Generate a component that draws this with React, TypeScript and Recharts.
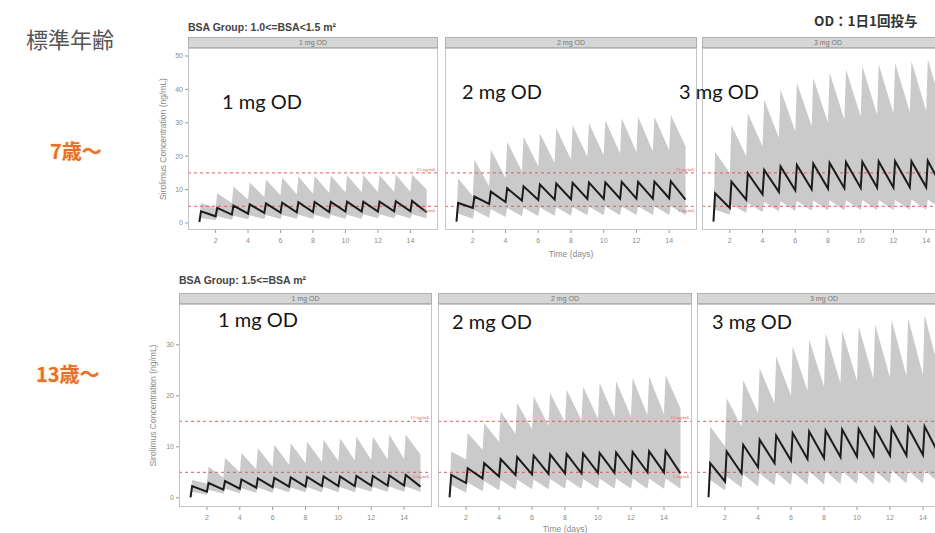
import React from 'react';
import { ComposedChart, Area, Line, XAxis, YAxis, ReferenceLine } from 'recharts';

// dosing schedule: one dose a day, day 1..14, observed until day 15
const doseDays = [1, 2, 3, 4, 5, 6, 7, 8, 9, 10, 11, 12, 13, 14];
const lastDay = 15;
const peakLag = 0.1;

const xTicks = [2, 4, 6, 8, 10, 12, 14];
const topYTicks = [0, 10, 20, 30, 40, 50];
const bottomYTicks = [0, 10, 20, 30];
const targetLow = 5;
const targetHigh = 15;

// values in time order: trough day1, peak day1, trough day2, ..., trough day15
// BSA 1.0-1.5, 1 mg
const top1Median = [0.3, 3.5, 2.0, 4.5, 2.5, 5.2, 2.8, 5.6, 3.0, 5.9, 3.1, 6.1, 3.2, 6.2, 3.3, 6.3, 3.3, 6.3, 3.4, 6.4, 3.4, 6.4, 3.4, 6.4, 3.5, 6.5, 3.5, 6.6, 3.2];
const top1Upper = [0.6, 6.0, 4.5, 8.9, 6.0, 10.9, 7.0, 12.1, 7.8, 13.0, 8.3, 13.6, 8.6, 13.9, 8.8, 14.1, 9.0, 14.2, 9.1, 14.3, 9.2, 14.4, 9.2, 14.4, 9.3, 14.5, 9.3, 14.5, 10.0];
const top1Lower = [0.1, 1.5, 0.8, 2.0, 1.0, 2.2, 1.1, 2.3, 1.2, 2.4, 1.2, 2.4, 1.3, 2.5, 1.3, 2.5, 1.3, 2.5, 1.3, 2.5, 1.3, 2.6, 1.4, 2.6, 1.4, 2.6, 1.4, 2.6, 1.4];
// BSA 1.0-1.5, 2 mg
const top2Median = [0.4, 6.0, 4.5, 7.9, 5.7, 9.4, 6.3, 10.4, 6.7, 11.0, 6.9, 11.5, 7.0, 11.8, 7.1, 12.0, 7.2, 12.1, 7.2, 12.2, 7.3, 12.3, 7.3, 12.3, 7.3, 12.4, 7.4, 12.5, 7.0];
const top2Upper = [1.0, 13.4, 8.0, 18.9, 11.0, 21.9, 13.5, 24.3, 15.5, 25.8, 17.0, 26.8, 18.0, 28.4, 19.0, 29.3, 19.8, 29.9, 20.3, 30.8, 20.8, 31.4, 21.2, 31.8, 21.5, 31.8, 21.8, 32.3, 23.0];
const top2Lower = [0.1, 2.8, 1.3, 3.8, 1.6, 4.2, 1.8, 4.5, 2.0, 4.6, 2.1, 4.7, 2.2, 4.8, 2.2, 4.8, 2.3, 4.9, 2.3, 4.9, 2.3, 4.9, 2.4, 5.0, 2.4, 5.0, 2.4, 5.0, 2.4];
// BSA 1.0-1.5, 3 mg
const top3Median = [0.4, 8.9, 4.5, 12.4, 7.0, 14.9, 8.6, 15.9, 9.3, 16.9, 9.8, 17.4, 10.1, 17.8, 10.3, 18.0, 10.4, 18.2, 10.5, 18.3, 10.6, 18.4, 10.6, 18.5, 10.7, 18.5, 10.7, 18.6, 10.5];
const top3Upper = [1.0, 21.3, 15.0, 29.3, 20.0, 32.8, 23.0, 36.8, 25.5, 40.0, 27.5, 42.0, 29.0, 43.4, 30.0, 45.0, 31.0, 46.0, 31.8, 47.0, 32.4, 47.5, 32.8, 48.0, 33.2, 48.5, 33.5, 49.0, 34.0];
const top3Lower = [0.1, 4.0, 2.5, 5.5, 3.0, 6.0, 3.3, 6.3, 3.5, 6.5, 3.6, 6.6, 3.7, 6.7, 3.8, 6.8, 3.8, 6.8, 3.9, 6.9, 3.9, 6.9, 3.9, 6.9, 4.0, 7.0, 4.0, 7.0, 4.0];
// BSA >= 1.5, 1 mg
const bot1Median = [0.1, 2.3, 1.2, 2.9, 1.6, 3.3, 1.8, 3.6, 2.0, 3.8, 2.1, 3.9, 2.2, 4.0, 2.2, 4.1, 2.3, 4.2, 2.3, 4.2, 2.3, 4.3, 2.4, 4.3, 2.4, 4.4, 2.4, 4.5, 2.2];
const bot1Upper = [0.5, 3.5, 2.8, 6.1, 4.0, 7.8, 5.0, 8.8, 5.6, 9.7, 6.1, 10.4, 6.5, 10.7, 6.8, 11.0, 7.0, 11.4, 7.2, 11.7, 7.3, 12.0, 7.4, 12.0, 7.5, 12.4, 7.6, 12.4, 8.5];
const bot1Lower = [0.05, 1.2, 0.6, 1.6, 0.8, 1.8, 0.9, 1.9, 1.0, 2.0, 1.0, 2.0, 1.1, 2.0, 1.1, 2.1, 1.1, 2.1, 1.1, 2.1, 1.1, 2.1, 1.2, 2.1, 1.2, 2.2, 1.2, 2.2, 1.2];
// BSA >= 1.5, 2 mg
const bot2Median = [0.1, 4.5, 2.9, 5.8, 3.8, 6.8, 4.2, 7.6, 4.5, 8.0, 4.6, 8.3, 4.7, 8.5, 4.8, 8.6, 4.8, 8.7, 4.9, 8.8, 4.9, 8.9, 4.9, 9.0, 5.0, 9.1, 5.0, 9.2, 4.8];
const bot2Upper = [0.5, 9.1, 7.5, 12.7, 9.4, 14.6, 11.0, 16.9, 12.5, 18.6, 13.5, 19.9, 14.2, 20.5, 14.8, 21.2, 15.2, 21.8, 15.5, 22.5, 15.8, 22.8, 16.0, 23.5, 16.2, 23.8, 16.4, 24.1, 17.5];
const bot2Lower = [0.05, 2.5, 1.0, 3.0, 1.3, 3.3, 1.5, 3.5, 1.6, 3.6, 1.7, 3.6, 1.7, 3.7, 1.8, 3.7, 1.8, 3.7, 1.8, 3.8, 1.8, 3.8, 1.8, 3.8, 1.8, 3.8, 1.8, 3.8, 1.8];
// BSA >= 1.5, 3 mg
const bot3Median = [0.1, 6.8, 3.2, 9.1, 4.8, 10.4, 6.0, 11.4, 6.8, 12.2, 7.3, 12.7, 7.6, 13.0, 7.8, 13.2, 8.0, 13.4, 8.1, 13.5, 8.2, 13.6, 8.3, 13.7, 8.3, 13.8, 8.4, 14.0, 8.3];
const bot3Upper = [0.5, 14.0, 10.0, 19.5, 14.0, 23.1, 16.6, 25.4, 18.5, 27.7, 20.0, 29.7, 21.0, 31.0, 21.8, 32.3, 22.4, 32.8, 22.9, 33.6, 23.3, 34.0, 23.6, 34.9, 23.9, 35.2, 24.1, 35.9, 24.5];
const bot3Lower = [0.05, 3.5, 1.5, 4.2, 2.0, 4.6, 2.2, 4.8, 2.4, 5.0, 2.5, 5.1, 2.6, 5.2, 2.6, 5.2, 2.7, 5.3, 2.7, 5.3, 2.7, 5.3, 2.8, 5.4, 2.8, 5.4, 2.8, 5.4, 2.8];

const times = doseDays.flatMap((d) => [d, d + peakLag]).concat(lastDay);

const buildRows = (median: number[], lower: number[], upper: number[]) =>
  times.map((t, i) => ({ t, median: median[i], band: [lower[i], upper[i]] }));

const sans = 'Liberation Sans, Arial, sans-serif';
const tickStyle = { fontSize: 7, fill: '#8a8a8a', fontFamily: sans };
const yTitle = 'Sirolimus Concentration (ng/mL)';

interface PanelProps {
  rows: { t: number; median: number; band: number[] }[];
  left: number;
  top: number;
  width: number;
  height: number;
  yDomain: [number, number];
  yTicks: number[];
  strip: string;
  showY?: boolean;
  showXTitle?: boolean;
  showRefLabels?: boolean;
  yTitleOffset?: number;
  xTitleOffset?: number;
}

const Panel: React.FC<PanelProps> = ({ rows, left, top, width, height, yDomain, yTicks, strip, showY, showXTitle, showRefLabels = true, yTitleOffset = 4, xTitleOffset = 1 }) => {
  const yw = showY ? 30 : 0;
  const xh = 30;
  return (
    <>
      <div style={{ position: 'absolute', left: left - yw, top }}>
        <ComposedChart width={width + yw} height={height + xh} data={rows} margin={{ top: 0, right: 0, bottom: 0, left: 0 }}>
          <XAxis
            type="number"
            dataKey="t"
            domain={[0.3, 15.7]}
            ticks={xTicks}
            allowDataOverflow
            height={xh}
            tickSize={3}
            tickMargin={5}
            axisLine={false}
            tickLine={{ stroke: '#9a9a9a' }}
            tick={tickStyle}
            label={showXTitle ? { value: 'Time (days)', position: 'insideBottom', offset: xTitleOffset, style: { fontSize: 8.5, fill: '#8a8a8a', fontFamily: sans } } : undefined}
          />
          <YAxis
            type="number"
            domain={yDomain}
            ticks={yTicks}
            allowDataOverflow
            hide={!showY}
            width={yw}
            tickSize={3}
            tickMargin={2}
            axisLine={false}
            tickLine={{ stroke: '#9a9a9a' }}
            tick={tickStyle}
            label={{ value: yTitle, angle: -90, position: 'insideLeft', offset: yTitleOffset, style: { textAnchor: 'middle', fontSize: 8.5, fill: '#8a8a8a', fontFamily: sans } }}
          />
          <Area type="linear" dataKey="band" fill="#cacaca" fillOpacity={1} stroke="none" isAnimationActive={false} />
          <ReferenceLine
            y={targetHigh}
            stroke="#e05a60"
            strokeDasharray="3 3"
            label={showRefLabels ? { value: '15 ng/mL', position: 'insideBottomRight', offset: 2, style: { fontSize: 5, fill: '#e05a60' } } : undefined}
          />
          <ReferenceLine
            y={targetLow}
            stroke="#e05a60"
            strokeDasharray="3 3"
            label={showRefLabels ? { value: '5 ng/mL', position: 'insideTopRight', offset: 2, style: { fontSize: 5, fill: '#e05a60' } } : undefined}
          />
          <Line type="linear" dataKey="median" stroke="#1c1c1c" strokeWidth={2} dot={false} isAnimationActive={false} />
        </ComposedChart>
      </div>
      <div style={{ position: 'absolute', left, top, width, height, border: '1px solid #c4c4c4', boxSizing: 'border-box', pointerEvents: 'none' }} />
      <div
        style={{
          position: 'absolute', left, top: top - 11, width, height: 11, boxSizing: 'border-box',
          background: '#d6d6d6', border: '1px solid #b0b0b0', fontSize: 7, lineHeight: '9px',
          textAlign: 'center', color: '#777', fontFamily: sans,
        }}
      >
        {strip}
      </div>
    </>
  );
};

const bigLabel: React.CSSProperties = {
  position: 'absolute', fontFamily: 'Lato, "Open Sans", sans-serif', fontSize: 20, lineHeight: '20px',
  color: '#151515', whiteSpace: 'nowrap',
};
const ageLabel: React.CSSProperties = {
  position: 'absolute', fontFamily: '"Noto Sans CJK JP", sans-serif', fontWeight: 700, fontSize: 20,
  lineHeight: '22px', color: '#e4702c', textShadow: '0 0 4px #fde6c4, 0 0 2px #fde6c4', whiteSpace: 'nowrap',
};
const groupTitle: React.CSSProperties = {
  position: 'absolute', fontFamily: sans, fontSize: 10.5, fontWeight: 700, color: '#444', whiteSpace: 'nowrap',
};

export default function App() {
  const topDomain: [number, number] = [-2.1, 52.4];
  const botDomain: [number, number] = [-1.8, 38];
  return (
    <div style={{ position: 'fixed', left: 0, top: 0, width: 935, height: 533, overflow: 'hidden', background: '#fff' }}>
      <div style={{ position: 'absolute', left: 26, top: 22, fontFamily: '"Noto Sans CJK JP", sans-serif', fontSize: 22, color: '#555' }}>標準年齢</div>
      <div style={{ position: 'absolute', left: 814, top: 10, fontFamily: '"Noto Sans CJK JP", sans-serif', fontSize: 13.5, fontWeight: 700, color: '#333', whiteSpace: 'nowrap' }}>OD：1日1回投与</div>
      <div style={{ ...ageLabel, left: 50, top: 140 }}>7歳～</div>
      <div style={{ ...ageLabel, left: 36, top: 363 }}>13歳～</div>

      <div style={{ ...groupTitle, left: 188, top: 21 }}>BSA Group: 1.0&lt;=BSA&lt;1.5 m²</div>
      <div style={{ ...groupTitle, left: 179, top: 274 }}>BSA Group: 1.5&lt;=BSA m²</div>

      <Panel rows={buildRows(top1Median, top1Lower, top1Upper)} left={188} top={48} width={250} height={182} yDomain={topDomain} yTicks={topYTicks} strip="1 mg OD" showY yTitleOffset={5} />
      <Panel rows={buildRows(top2Median, top2Lower, top2Upper)} left={445} top={48} width={252} height={182} yDomain={topDomain} yTicks={topYTicks} strip="2 mg OD" showXTitle xTitleOffset={3} />
      <Panel rows={buildRows(top3Median, top3Lower, top3Upper)} left={702} top={48} width={252} height={182} yDomain={topDomain} yTicks={topYTicks} strip="3 mg OD" showRefLabels={false} />

      <Panel rows={buildRows(bot1Median, bot1Lower, bot1Upper)} left={179} top={304} width={253} height={203} yDomain={botDomain} yTicks={bottomYTicks} strip="1 mg OD" showY yTitleOffset={4} />
      <Panel rows={buildRows(bot2Median, bot2Lower, bot2Upper)} left={438} top={304} width={254} height={203} yDomain={botDomain} yTicks={bottomYTicks} strip="2 mg OD" showXTitle xTitleOffset={5} />
      <Panel rows={buildRows(bot3Median, bot3Lower, bot3Upper)} left={697} top={304} width={254} height={203} yDomain={botDomain} yTicks={bottomYTicks} strip="3 mg OD" showRefLabels={false} />

      <div style={{ ...bigLabel, left: 222, top: 91 }}>1 mg OD</div>
      <div style={{ ...bigLabel, left: 462, top: 81 }}>2 mg OD</div>
      <div style={{ ...bigLabel, left: 679, top: 81 }}>3 mg OD</div>
      <div style={{ ...bigLabel, left: 218, top: 309 }}>1 mg OD</div>
      <div style={{ ...bigLabel, left: 452, top: 311 }}>2 mg OD</div>
      <div style={{ ...bigLabel, left: 712, top: 311 }}>3 mg OD</div>
    </div>
  );
}
